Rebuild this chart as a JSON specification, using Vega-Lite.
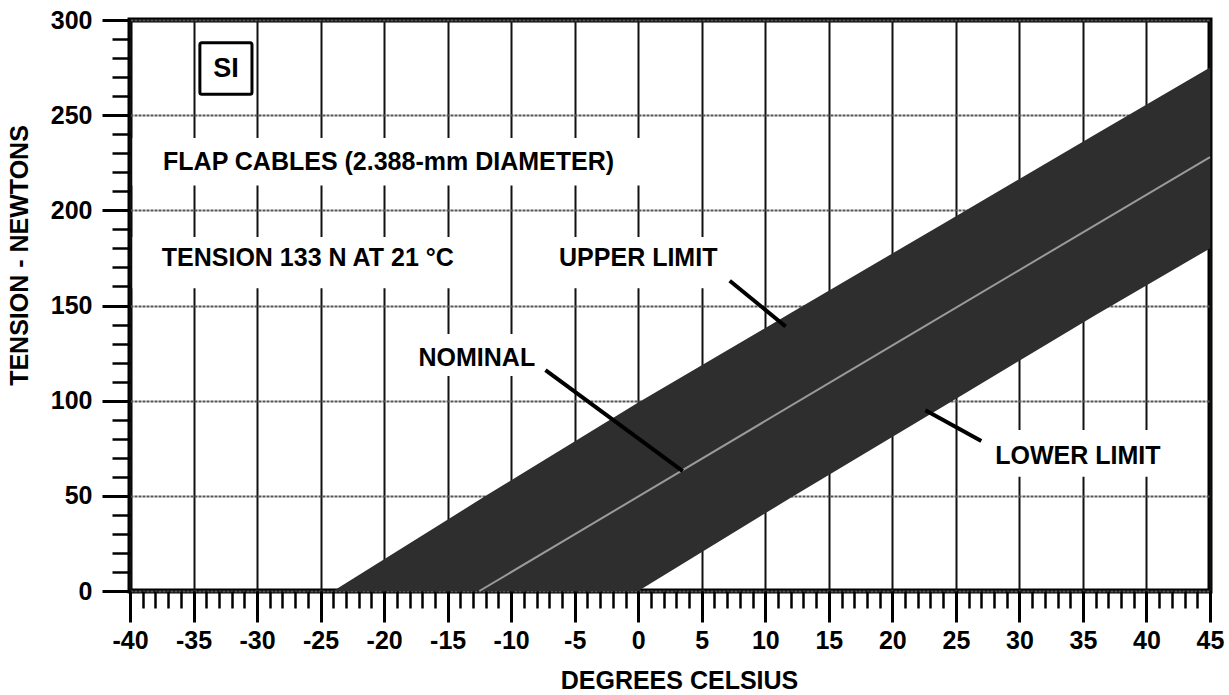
{
  "$schema": "https://vega.github.io/schema/vega-lite/v6.json",
  "width": 1080,
  "height": 571,
  "autosize": {"type": "none"},
  "padding": {"left": 130, "top": 20, "right": 19, "bottom": 104},
  "background": "white",
  "config": {
    "font": "Liberation Sans",
    "view": {"stroke": "black", "strokeWidth": 5},
    "text": {"font": "Liberation Sans", "fontSize": 25, "fontWeight": "bold", "color": "black"}
  },
  "datasets": {
    "band": [
      {"temp": -24, "lower": 0, "upper": 0},
      {"temp": -12, "lower": 0, "upper": 50},
      {"temp": 0, "lower": 0, "upper": 99},
      {"temp": 12, "lower": 49, "upper": 146},
      {"temp": 24, "lower": 97, "upper": 193},
      {"temp": 36, "lower": 145, "upper": 240},
      {"temp": 45, "lower": 180, "upper": 275}
    ],
    "nominal": [
      {"temp": -12.5, "tension": 0},
      {"temp": 21, "tension": 133},
      {"temp": 45, "tension": 228}
    ],
    "leaders": [
      {"name": "UPPER LIMIT", "t1": 7.2, "n1": 163, "t2": 11.6, "n2": 139},
      {"name": "NOMINAL", "t1": -7.3, "n1": 116, "t2": 3.5, "n2": 63},
      {"name": "LOWER LIMIT", "t1": 27.0, "n1": 78.8, "t2": 22.6, "n2": 95}
    ],
    "clearings": [
      {"t1": -39.8, "t2": 0.2, "n1": 213, "n2": 238},
      {"t1": -39.8, "t2": -12.6, "n1": 159, "n2": 186},
      {"t1": -7.3, "t2": 7.4, "n1": 159, "n2": 186},
      {"t1": -18, "t2": -7.3, "n1": 113, "n2": 135},
      {"t1": 27.3, "t2": 41.9, "n1": 60, "n2": 84.6}
    ],
    "notes": [
      {"text": "FLAP CABLES (2.388-mm DIAMETER)", "temp": -37.4, "tension": 225.4},
      {"text": "TENSION 133 N AT 21 °C", "temp": -37.5, "tension": 175}
    ],
    "callouts": [
      {"text": "UPPER LIMIT", "temp": 0, "tension": 175},
      {"text": "NOMINAL", "temp": -12.7, "tension": 122.4},
      {"text": "LOWER LIMIT", "temp": 34.6, "tension": 71}
    ],
    "unit": [
      {"text": "SI", "t1": -34.5, "t2": -30.4, "n1": 261, "n2": 288, "temp": -32.45, "tension": 274.5}
    ]
  },
  "layer": [
    {
      "data": {"name": "band"},
      "mark": {"type": "area", "color": "#2e2e2e", "opacity": 1},
      "encoding": {
        "x": {
          "field": "temp", "type": "quantitative",
          "scale": {"domain": [-40, 45], "nice": false, "zero": false},
          "axis": {
            "orient": "bottom",
            "values": [-40, -35, -30, -25, -20, -15, -10, -5, 0, 5, 10, 15, 20, 25, 30, 35, 40, 45],
            "grid": true, "gridColor": "#111111", "gridWidth": 2,
            "domain": false,
            "ticks": true, "tickSize": 31, "tickWidth": 3, "tickColor": "black",
            "labelFont": "Liberation Sans", "labelFontSize": 25, "labelFontWeight": "bold", "labelColor": "black",
            "labelPadding": 6, "labelFlush": false, "labelOverlap": false,
            "format": "d",
            "labelExpr": "replace(datum.label, '\u2212', '-')",
            "title": "DEGREES CELSIUS",
            "titleFont": "Liberation Sans", "titleFontSize": 25, "titleFontWeight": "bold", "titleColor": "black",
            "titleX": 549, "titleY": 97, "titleAlign": "center", "titleBaseline": "alphabetic"
          }
        },
        "y": {
          "field": "upper", "type": "quantitative",
          "scale": {"domain": [0, 300], "nice": false, "zero": false},
          "axis": {
            "orient": "left",
            "values": [0, 50, 100, 150, 200, 250, 300],
            "grid": true, "gridColor": "#555555", "gridWidth": 2, "gridDash": [3, 1],
            "domain": false,
            "ticks": true, "tickSize": 28, "tickWidth": 3, "tickColor": "black",
            "labelFont": "Liberation Sans", "labelFontSize": 25, "labelFontWeight": "bold", "labelColor": "black",
            "labelPadding": 10, "labelFlush": false, "labelOverlap": false,
            "title": "TENSION - NEWTONS",
            "titleFont": "Liberation Sans", "titleFontSize": 25, "titleFontWeight": "bold", "titleColor": "black",
            "titleAngle": 270, "titleX": -103, "titleY": 235, "titleAlign": "center", "titleBaseline": "alphabetic"
          }
        },
        "y2": {"field": "lower"}
      }
    },
    {
      "data": {"name": "nominal"},
      "mark": {"type": "line", "color": "#9a9a9a", "strokeWidth": 2},
      "encoding": {
        "x": {
          "field": "temp", "type": "quantitative",
          "axis": {
            "orient": "bottom",
            "values": [-40, -39, -38, -37, -36, -35, -34, -33, -32, -31, -30, -29, -28, -27, -26, -25, -24, -23, -22, -21, -20, -19, -18, -17, -16, -15, -14, -13, -12, -11, -10, -9, -8, -7, -6, -5, -4, -3, -2, -1, 0, 1, 2, 3, 4, 5, 6, 7, 8, 9, 10, 11, 12, 13, 14, 15, 16, 17, 18, 19, 20, 21, 22, 23, 24, 25, 26, 27, 28, 29, 30, 31, 32, 33, 34, 35, 36, 37, 38, 39, 40, 41, 42, 43, 44, 45],
            "grid": false, "domain": false, "labels": false,
            "ticks": true, "tickSize": 17, "tickWidth": 2.5, "tickColor": "black",
            "title": null
          }
        },
        "y": {
          "field": "tension", "type": "quantitative",
          "axis": {
            "orient": "left",
            "values": [0, 10, 20, 30, 40, 50, 60, 70, 80, 90, 100, 110, 120, 130, 140, 150, 160, 170, 180, 190, 200, 210, 220, 230, 240, 250, 260, 270, 280, 290, 300],
            "grid": false, "domain": false, "labels": false,
            "ticks": true, "tickSize": 18, "tickWidth": 2.5, "tickColor": "black",
            "title": null
          }
        }
      }
    },
    {
      "data": {"name": "clearings"},
      "mark": {"type": "rect", "fill": "white", "stroke": null},
      "encoding": {
        "x": {"field": "t1", "type": "quantitative", "axis": null},
        "x2": {"field": "t2"},
        "y": {"field": "n1", "type": "quantitative", "axis": null},
        "y2": {"field": "n2"}
      }
    },
    {
      "data": {"name": "leaders"},
      "mark": {"type": "rule", "color": "black", "strokeWidth": 4},
      "encoding": {
        "x": {"field": "t1", "type": "quantitative", "axis": null},
        "x2": {"field": "t2"},
        "y": {"field": "n1", "type": "quantitative", "axis": null},
        "y2": {"field": "n2"}
      }
    },
    {
      "data": {"name": "unit"},
      "mark": {"type": "rect", "fill": "white", "stroke": "black", "strokeWidth": 3, "cornerRadius": 2},
      "encoding": {
        "x": {"field": "t1", "type": "quantitative", "axis": null},
        "x2": {"field": "t2"},
        "y": {"field": "n1", "type": "quantitative", "axis": null},
        "y2": {"field": "n2"}
      }
    },
    {
      "data": {"name": "unit"},
      "mark": {"type": "text", "align": "center", "baseline": "middle", "fontSize": 27},
      "encoding": {
        "x": {"field": "temp", "type": "quantitative", "axis": null},
        "y": {"field": "tension", "type": "quantitative", "axis": null},
        "text": {"field": "text"}
      }
    },
    {
      "data": {"name": "notes"},
      "mark": {"type": "text", "align": "left", "baseline": "middle"},
      "encoding": {
        "x": {"field": "temp", "type": "quantitative", "axis": null},
        "y": {"field": "tension", "type": "quantitative", "axis": null},
        "text": {"field": "text"}
      }
    },
    {
      "data": {"name": "callouts"},
      "mark": {"type": "text", "align": "center", "baseline": "middle"},
      "encoding": {
        "x": {"field": "temp", "type": "quantitative", "axis": null},
        "y": {"field": "tension", "type": "quantitative", "axis": null},
        "text": {"field": "text"}
      }
    }
  ],
  "resolve": {"axis": {"x": "independent", "y": "independent"}}
}
